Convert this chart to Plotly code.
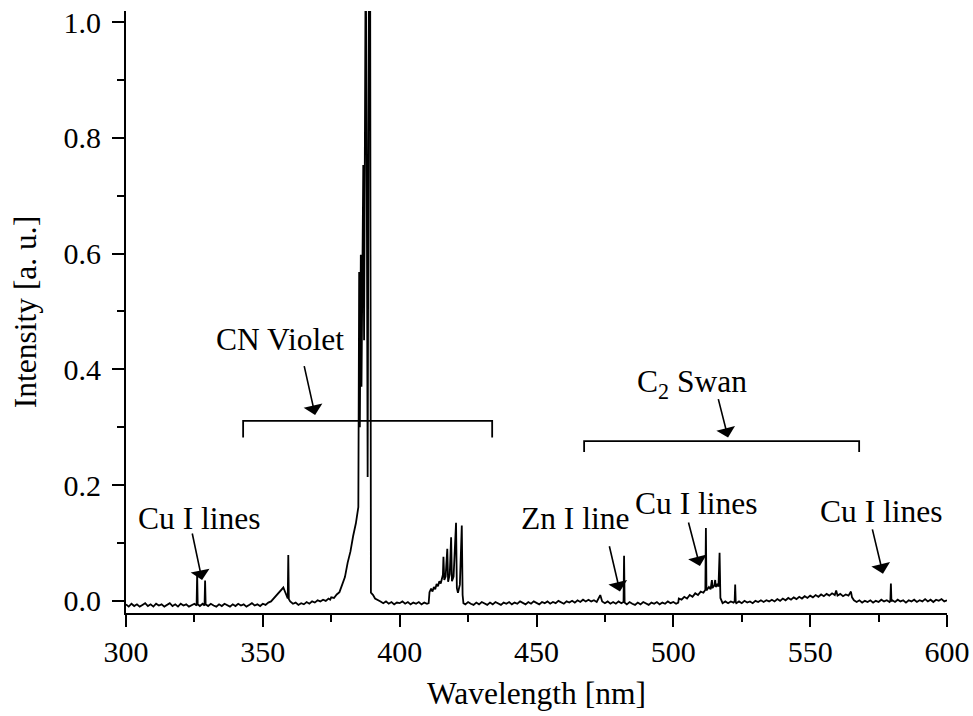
import plotly.graph_objects as go

# ---- spectrum values ----
wavelength = [
    300, 301, 302, 303, 304, 305, 306, 307, 308, 309, 310, 311, 312, 313, 314, 315, 316, 317, 318, 319, 320, 321, 322, 323, 324, 325,
    325.8, 326.0, 326.2, 327, 328, 328.7, 328.9, 329.1,
    330, 331, 332, 333, 334, 335, 336, 337, 338, 339, 340, 341, 342, 343, 344, 345, 346, 347, 348, 349, 350, 351,
    352, 353, 354, 355, 356, 357, 357.5, 358, 358.6, 359.1, 359.3, 359.5, 360,
    361, 362, 363, 364, 365, 366, 367, 368, 369, 370, 371, 372, 373, 374, 374.6,
    375, 376, 377, 378, 379, 380, 381, 382, 383, 384, 384.9,
    385.2, 385.45, 385.8, 386.05, 386.7, 387.0, 387.6, 388.0, 388.3, 388.8, 389.2, 389.5, 390.3, 391, 392, 393,
    394, 395, 396, 397, 398, 399, 400, 401, 402, 403, 404, 405, 406, 407, 408, 409, 410,
    410.6, 410.9, 411.5, 412, 412.5, 413, 413.5, 414, 414.5, 415, 415.5, 415.8, 416.0, 416.3, 416.8, 417.4, 417.7, 418.3, 418.8, 419.1, 419.7, 420.6, 420.9, 421.3, 422.0, 422.7, 423.0, 423.3,
    424, 425, 426, 427, 428, 429, 430, 431, 432, 433, 434, 435, 436, 437, 438, 439, 440, 441, 442, 443, 444, 445, 446, 447, 448,
    449, 450, 451, 452, 453, 454, 455, 456, 457, 458, 459, 460, 461, 462, 463, 464, 465, 466, 467, 468, 469, 470, 471, 472,
    473.3, 474, 475, 476, 477, 478, 479, 480, 481, 481.8, 482.0, 482.2,
    483, 484, 485, 486, 487, 488, 489, 490, 491, 492, 493, 494, 495, 496, 497, 498, 499, 500, 501, 501.8,
    502, 503, 504, 505, 506, 507, 508, 509, 510, 511, 511.7, 511.9, 512.1, 513, 513.6, 514.1, 514.3, 515, 515.3, 515.5, 516, 516.5, 516.9, 517.2, 517.6,
    518, 519, 520, 521, 522, 522.4, 522.6, 522.8, 523,
    524, 525, 526, 527, 528, 529, 530, 531, 532, 533, 534, 535, 536, 537, 538, 539, 540, 541, 542, 543, 544, 545, 546,
    547, 548, 549, 550, 551, 552, 553, 554, 555, 556, 557, 558, 559, 559.5, 560, 561, 562, 563, 564, 564.9, 565.3,
    566, 567, 568, 569, 570, 571, 572, 573, 574, 575, 576, 577, 578, 579, 579.3, 579.5, 579.7,
    580, 581, 582, 583, 584, 585, 586, 587, 588, 589, 590, 591, 592, 593, 594, 595, 596, 597, 598, 599, 600,
]

intensity = [
    -0.006, -0.010, -0.005, -0.009, -0.006, -0.010, -0.007, -0.004, -0.009, -0.006, -0.010, -0.005, -0.008, -0.006, -0.010, -0.007, -0.004, -0.009, -0.006, -0.010, -0.005, -0.008, -0.006, -0.010, -0.007, -0.005,
    -0.008, 0.047, -0.006, -0.009, -0.005, -0.008, 0.035, -0.006,
    -0.009, -0.005, -0.008, -0.010, -0.006, -0.009, -0.005, -0.008, -0.010, -0.006, -0.009, -0.005, -0.008, -0.006, -0.010, -0.007, -0.004, -0.008, -0.006, -0.009, -0.005, -0.007,
    -0.003, -0.001, 0.004, 0.009, 0.015, 0.020, 0.023, 0.017, 0.009, 0.004, 0.079, 0.003, -0.001,
    -0.005, -0.003, -0.007, -0.004, -0.006, -0.002, -0.005, -0.001, -0.003, 0.001, -0.001, 0.002, 0.000, 0.004, 0.002,
    0.006, 0.005, 0.011, 0.015, 0.028, 0.041, 0.066, 0.085, 0.112, 0.134, 0.162,
    0.568, 0.300, 0.598, 0.370, 0.753, 0.450, 1.150, 0.700, 0.214, 1.150, 1.150, 0.014, 0.010, 0.004, 0.002, -0.001,
    -0.004, -0.001, -0.005, -0.002, -0.006, -0.003, -0.004, -0.001, -0.005, -0.002, -0.006, -0.003, -0.005, -0.002, -0.006, -0.003, -0.005,
    -0.004, 0.015, 0.021, 0.016, 0.024, 0.020, 0.029, 0.025, 0.034, 0.030, 0.040, 0.045, 0.076, 0.036, 0.042, 0.090, 0.033, 0.046, 0.110, 0.034, 0.042, 0.135, 0.022, 0.014, 0.028, 0.130, 0.010, -0.004,
    -0.006, -0.002, -0.005, -0.007, -0.003, -0.006, -0.002, -0.005, -0.007, -0.003, -0.006, -0.002, -0.005, -0.007, -0.003, -0.005, -0.002, -0.006, -0.003, -0.005, -0.001, -0.004, -0.006, -0.002, -0.005,
    -0.001, -0.004, -0.006, -0.002, -0.004, -0.001, -0.005, -0.002, -0.004, 0.000, -0.003, -0.005, -0.001, -0.003, 0.000, -0.003, 0.001, -0.002, 0.002, -0.001, 0.002, -0.001, 0.001, -0.002,
    0.010, -0.001, -0.004, -0.001, -0.005, -0.002, -0.005, -0.001, -0.004, -0.002, 0.078, -0.003,
    -0.006, -0.002, -0.005, -0.007, -0.003, -0.006, -0.002, -0.005, -0.007, -0.003, -0.005, -0.002, -0.006, -0.003, -0.005, -0.001, -0.004, -0.002, -0.005, -0.003,
    0.004, 0.002, 0.007, 0.004, 0.010, 0.007, 0.013, 0.010, 0.016, 0.014, 0.019, 0.126, 0.018, 0.024, 0.020, 0.036, 0.022, 0.027, 0.036, 0.024, 0.028, 0.025, 0.083, 0.005, -0.002,
    -0.004, -0.001, -0.004, -0.001, -0.003, -0.001, 0.028, -0.002, -0.004,
    -0.001, -0.004, 0.000, -0.003, -0.001, -0.004, 0.000, -0.002, 0.001, -0.002, 0.001, -0.001, 0.002, -0.001, 0.003, 0.000, 0.004, 0.001, 0.005, 0.002, 0.006, 0.003, 0.007,
    0.004, 0.008, 0.005, 0.009, 0.006, 0.010, 0.007, 0.011, 0.008, 0.012, 0.009, 0.013, 0.010, 0.018, 0.009, 0.012, 0.008, 0.011, 0.009, 0.016, 0.006,
    0.001, -0.002, 0.001, -0.003, 0.000, -0.002, 0.001, -0.003, 0.000, -0.002, 0.002, -0.001, 0.001, -0.002, 0.000, 0.030, -0.001,
    0.001, -0.002, 0.002, -0.001, 0.001, -0.003, 0.001, -0.001, 0.002, -0.002, 0.001, -0.001, 0.003, -0.001, 0.002, -0.002, 0.002, 0.000, 0.003, -0.001, 0.001,
]
assert len(wavelength) == len(intensity), (len(wavelength), len(intensity))

# ---- axis ticks ----
x_ticks = [300, 350, 400, 450, 500, 550, 600]
y_ticks = [0.0, 0.2, 0.4, 0.6, 0.8, 1.0]

# ---- annotations: label text, label position, arrow tail, arrow head ----
labels = ["CN Violet", "C<sub>2</sub> Swan", "Cu I lines", "Zn I line", "Cu I lines", "Cu I lines"]
label_x = [356.3, 506.8, 327.0, 464.1, 508.6, 575.9]
label_y = [0.451, 0.375, 0.143, 0.143, 0.169, 0.154]
arrow_tail_x = [365.0, 516.3, 324.1, 476.5, 505.4, 572.6]
arrow_tail_y = [0.408, 0.351, 0.119, 0.097, 0.138, 0.126]
arrow_head_x = [369.1, 520.0, 327.8, 480.5, 509.7, 576.6]
arrow_head_y = [0.321, 0.282, 0.036, 0.016, 0.060, 0.047]

# brackets: [x_left, x_right, y_bar, y_end]
bracket_cn = [342.8, 433.8, 0.311, 0.282]
bracket_swan = [467.4, 567.9, 0.276, 0.257]

FONT = "Times New Roman, Liberation Serif, Times, serif"

fig = go.Figure()
fig.add_trace(go.Scatter(
    x=wavelength, y=intensity, mode="lines",
    line=dict(color="black", width=1.8),
    showlegend=False, hoverinfo="skip",
))

for b in (bracket_cn, bracket_swan):
    fig.add_trace(go.Scatter(
        x=[b[0], b[0], b[1], b[1]], y=[b[3], b[2], b[2], b[3]],
        mode="lines", line=dict(color="black", width=1.8),
        showlegend=False, hoverinfo="skip",
    ))

annotations = []
for t, lx, ly in zip(labels, label_x, label_y):
    annotations.append(dict(
        x=lx, y=ly, xref="x", yref="y", text=t, showarrow=False,
        font=dict(family=FONT, size=31.5, color="black"),
        xanchor="center", yanchor="middle",
    ))
for tx, ty, hx, hy in zip(arrow_tail_x, arrow_tail_y, arrow_head_x, arrow_head_y):
    annotations.append(dict(
        x=hx, y=hy, ax=tx, ay=ty, xref="x", yref="y", axref="x", ayref="y",
        text="", showarrow=True, arrowhead=1, arrowsize=2.0, arrowwidth=1.6,
        arrowcolor="black", standoff=0,
    ))

axis_common = dict(
    showline=True, linecolor="black", linewidth=2, mirror=False,
    ticks="outside", ticklen=12, tickwidth=2, tickcolor="black",
    showgrid=False, zeroline=False, automargin=False,
    tickfont=dict(family=FONT, size=30, color="black"),
)

fig.update_layout(
    width=973, height=716,
    margin=dict(l=126, r=26, t=11, b=103),
    paper_bgcolor="white", plot_bgcolor="white",
    font=dict(family=FONT, size=30, color="black"),
    xaxis=dict(
        range=[300, 600], tickvals=x_ticks,
        minor=dict(dtick=25, tick0=300, ticks="outside", ticklen=7, tickwidth=2, tickcolor="black"),
        title=dict(text="Wavelength [nm]", font=dict(family=FONT, size=31.5, color="black"), standoff=15),
        ticklabelstandoff=-1,
        **axis_common,
    ),
    yaxis=dict(
        range=[-0.021, 1.019], tickvals=y_ticks, tickformat=".1f",
        minor=dict(dtick=0.1, tick0=0, ticks="outside", ticklen=7, tickwidth=2, tickcolor="black"),
        title=dict(text="Intensity [a. u.]", font=dict(family=FONT, size=31.5, color="black"), standoff=17),
        ticklabelstandoff=5,
        **axis_common,
    ),
    annotations=annotations,
)

fig.write_html("out.html")
